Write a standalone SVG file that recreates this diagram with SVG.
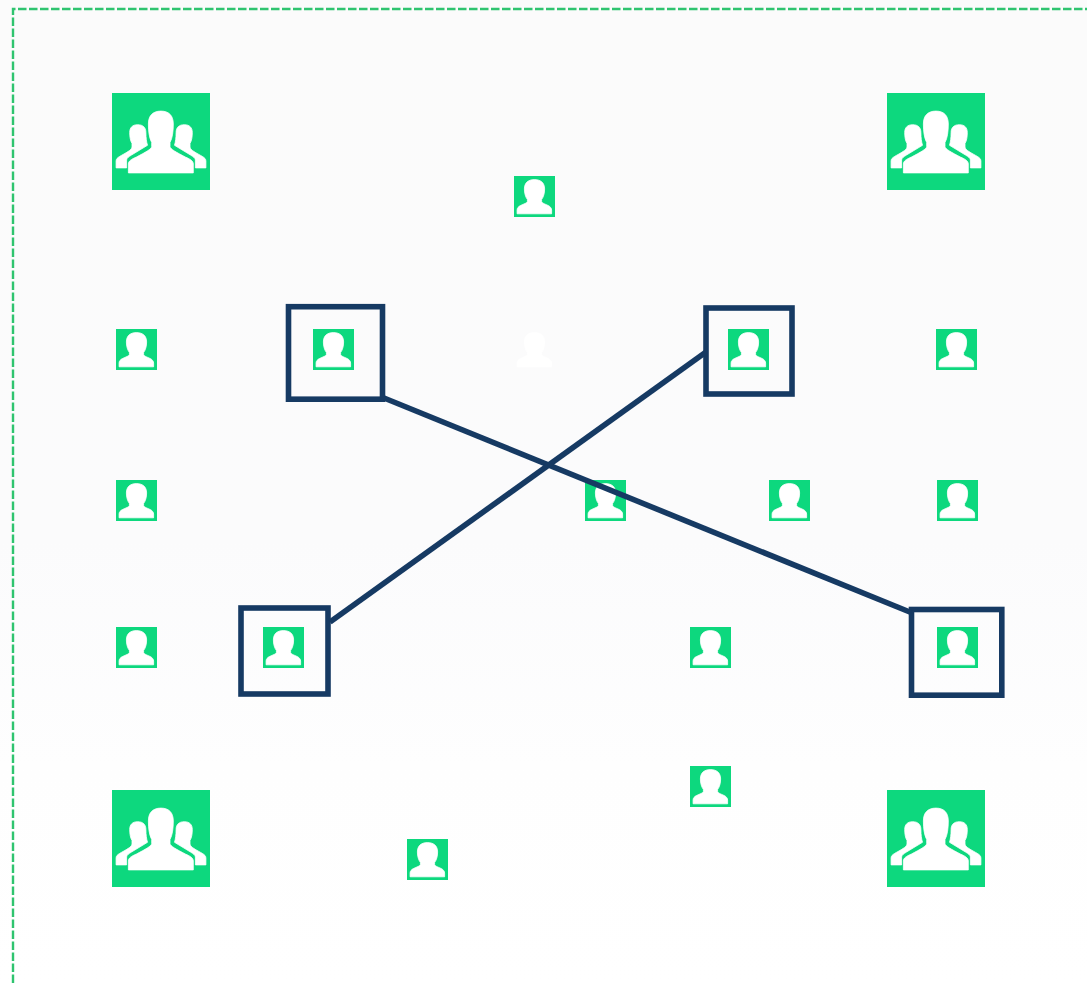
<svg xmlns="http://www.w3.org/2000/svg" xmlns:xlink="http://www.w3.org/1999/xlink" width="1087" height="983" viewBox="0 0 1087 983">
<style>
.bg{fill:url(#fade)}
.tile{fill:#0dd87e}
.glyph{fill:#fff;stroke:#fff;stroke-width:0.800;stroke-linejoin:round;filter:url(#soft)}
.frame{fill:none;stroke:#163a63;stroke-width:5.600}
.link{fill:none;stroke:#163a63;stroke-width:5.600}
.border{fill:none;stroke:#2fc46f;stroke-width:2.400;stroke-dasharray:8.500 2.500}
</style>
<defs>
<filter id="soft" x="-10%" y="-10%" width="120%" height="120%"><feGaussianBlur stdDeviation="0.350"/></filter>
<linearGradient id="fade" x1="0" y1="0" x2="0" y2="1">
<stop offset="0" stop-color="#fbfbfb"/><stop offset="0.55" stop-color="#fbfbfc"/><stop offset="0.78" stop-color="#fefefe"/><stop offset="1" stop-color="#fff"/>
</linearGradient>
<path id="bust" d="M20.400 3.600C14 3.600 10.400 7 10.400 13C10.400 17 11.400 21 13.400 23.500L13.400 25.500C13.400 27 9.500 28 6.500 29.500C4.500 30.500 3.100 32 3.100 34L3.100 37.800L37.600 37.800L37.600 34C37.600 32 36.100 30.500 34.100 29.500C31.100 28 27.600 27 27.600 25.500L27.600 23.500C29.600 21 30.600 17 30.600 13C30.600 7 27 3.600 20.400 3.600Z"/>
<path id="back" d="M25.700 31.700C20.500 31.700 17.700 34.500 17.700 39.500C17.700 44 18.400 48 20 50.500L20 54C20 57 13.500 60 7.500 63.500C5.500 64.700 4.100 66 4.100 68L4.100 74.900L14.600 74.900L14.600 67C14.600 65 16.500 64 19.500 62L35.500 52.300C34.500 49 33.900 45 33.900 39.500C33.900 34.500 31 31.700 25.700 31.700Z"/>
<g id="person"><rect class="tile" width="41" height="41"/><use xlink:href="#bust" href="#bust" class="glyph"/></g>
<g id="crowd"><rect class="tile" width="98" height="97"/>
<use xlink:href="#back" href="#back" class="glyph"/>
<use xlink:href="#back" href="#back" class="glyph" transform="translate(98 0) scale(-1 1)"/>
<path class="glyph" d="M48.900 18.100C40.500 18.100 36.400 23 36.400 31C36.400 38 37.200 45 39.700 49.500L39.700 53.500C39.700 56 33 59.500 24.500 64C19.500 66.200 16.400 68 16.400 71L16.400 79.900L81.300 79.900L81.300 71C81.300 68 78.300 66.200 73.300 64C64.800 59.500 58 56 58 53.500L58 49.500C60.500 45 61.300 38 61.300 31C61.300 23 57.300 18.100 48.900 18.100Z"/>
</g>
</defs>
<rect class="bg" width="1087" height="983"/>
<path class="border" d="M13 983V9H1087"/>
<g id="group-top-left"><use xlink:href="#crowd" href="#crowd" x="112" y="93"/></g>
<g id="group-top-right"><use xlink:href="#crowd" href="#crowd" x="887" y="93"/></g>
<g id="group-bottom-left"><use xlink:href="#crowd" href="#crowd" x="112" y="790"/></g>
<g id="group-bottom-right"><use xlink:href="#crowd" href="#crowd" x="887" y="790"/></g>
<g id="user-top"><use xlink:href="#person" href="#person" x="514" y="176"/></g>
<g id="user-r1-a"><use xlink:href="#person" href="#person" x="116" y="329"/></g>
<g id="user-r1-b"><use xlink:href="#person" href="#person" x="313" y="329"/><rect class="frame" x="288.500" y="306.700" width="94" height="92.500"/></g>
<g id="user-ghost"><use xlink:href="#bust" href="#bust" class="glyph" x="514" y="329"/></g>
<g id="user-r1-c"><use xlink:href="#person" href="#person" x="728" y="329"/><rect class="frame" x="706" y="308" width="86" height="86"/></g>
<g id="user-r1-d"><use xlink:href="#person" href="#person" x="936" y="329"/></g>
<g id="user-r2-a"><use xlink:href="#person" href="#person" x="116" y="480"/></g>
<g id="user-r2-b"><use xlink:href="#person" href="#person" x="585" y="480"/></g>
<g id="user-r2-c"><use xlink:href="#person" href="#person" x="769" y="480"/></g>
<g id="user-r2-d"><use xlink:href="#person" href="#person" x="937" y="480"/></g>
<g id="user-r3-a"><use xlink:href="#person" href="#person" x="116" y="627"/></g>
<g id="user-r3-b"><use xlink:href="#person" href="#person" x="263" y="627"/><rect class="frame" x="241" y="608" width="87" height="86"/></g>
<g id="user-r3-c"><use xlink:href="#person" href="#person" x="690" y="627"/></g>
<g id="user-r3-d"><use xlink:href="#person" href="#person" x="937" y="627"/><rect class="frame" x="911.500" y="609.500" width="90.300" height="85.700"/></g>
<g id="user-r4-a"><use xlink:href="#person" href="#person" x="690" y="766"/></g>
<g id="user-r4-b"><use xlink:href="#person" href="#person" x="407" y="839"/></g>
<g id="connectors">
<line class="link" x1="384" y1="398" x2="911" y2="612.500"/>
<line class="link" x1="706" y1="352" x2="330" y2="622"/>
</g>
</svg>
